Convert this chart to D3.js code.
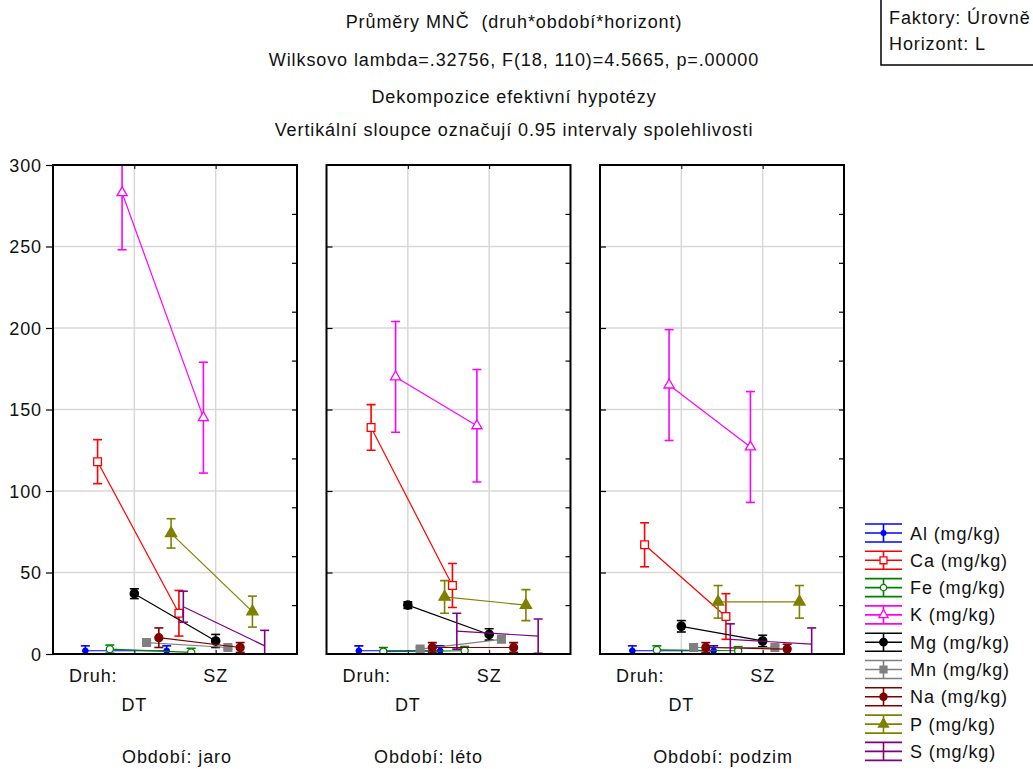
<!DOCTYPE html>
<html><head><meta charset="utf-8">
<script src="https://cdn.jsdelivr.net/npm/d3@7"></script>
<style>
body{margin:0;background:#fff;}
svg text{font-family:"Liberation Sans",Arial,sans-serif;font-size:18px;letter-spacing:0.9px;fill:#111;white-space:pre;}
</style></head><body>
<svg id="chart" width="1033" height="769"></svg>
<script>
// ---- data ----
const titleLines = [
  "Průměry MNČ  (druh*období*horizont)",
  "Wilksovo lambda=.32756, F(18, 110)=4.5665, p=.00000",
  "Dekompozice efektivní hypotézy",
  "Vertikální sloupce označují 0.95 intervaly spolehlivosti"
];
const factorLines = ["Faktory: Úrovně", "Horizont: L"];
const seriesNames = ["Al (mg/kg)", "Ca (mg/kg)", "Fe (mg/kg)", "K (mg/kg)", "Mg (mg/kg)",
                     "Mn (mg/kg)", "Na (mg/kg)", "P (mg/kg)", "S (mg/kg)"];
const seriesColors = ["#0000ff", "#ff0000", "#008000", "#ff00ff", "#000000",
                      "#808080", "#800000", "#808000", "#800080"];
const periods = ["jaro", "léto", "podzim"];
const druhLevels = ["DT", "SZ"];
const yTicks = [0, 50, 100, 150, 200, 250, 300];
const yMinorTicks = [30, 60, 90, 120, 150, 180, 210, 240, 270];

// means [DT, SZ] per series, one array per period
const meanJaro   = [[2, 2], [118, 25], [3, 1], [283, 145], [37, 8], [7, 4], [10, 4], [74, 26], [29, 5]];
const meanLeto   = [[2, 2], [139, 42], [1.5, 2], [170, 140], [30, 12], [3, 9], [4, 4], [35, 30], [14, 11]];
const meanPodzim = [[2, 2], [67, 23], [2.5, 2], [165, 127], [17, 8], [4, 4], [4, 3], [32, 32], [9, 6]];
// 0.95 confidence half-widths [DT, SZ]
const ciJaro   = [[3, 3], [13.5, 14], [2.5, 2.5], [35, 34], [3, 4], [1, 1], [6, 3], [9, 9.5], [9.5, 9.5]];
const ciLeto   = [[3, 3], [14, 13.5], [2.5, 2.5], [34, 34.5], [2, 3.5], [1, 1], [3, 3], [10, 9.5], [11, 10.5]];
const ciPodzim = [[3, 3], [13.5, 14], [2.5, 2.5], [34, 34], [3.5, 3.5], [1, 1], [3, 3], [10, 10], [9.5, 10]];

const meansByPeriod = [meanJaro, meanLeto, meanPodzim];
const ciByPeriod = [ciJaro, ciLeto, ciPodzim];

// ---- layout ----
const svg = d3.select("#chart");
const panelW = 244, panelGap = 29.5, panelLeft0 = 53;
const yTop = 165, yBottom = 654;
const periodLabelX = [124, 102, 123];   // horizontal anchor of each "Období" label inside its panel

const y = d3.scaleLinear().domain([0, 300]).range([yBottom, yTop]);
const xCat = d3.scalePoint().domain(druhLevels).range([0, panelW]).padding(1);
const xOff = d3.scalePoint().domain(seriesNames).range([-49, 49]);
const color = d3.scaleOrdinal().domain(seriesNames).range(seriesColors);

const markerShape = {
  "Al (mg/kg)": {type: d3.symbolCircle, size: 22, fill: true},
  "Ca (mg/kg)": {type: d3.symbolSquare, size: 60, fill: false},
  "Fe (mg/kg)": {type: d3.symbolCircle, size: 40, fill: false},
  "K (mg/kg)":  {type: d3.symbolTriangle, size: 45, fill: false},
  "Mg (mg/kg)": {type: d3.symbolCircle, size: 55, fill: true},
  "Mn (mg/kg)": {type: d3.symbolSquare, size: 60, fill: true},
  "Na (mg/kg)": {type: d3.symbolCircle, size: 50, fill: true},
  "P (mg/kg)":  {type: d3.symbolTriangle, size: 55, fill: true},
  "S (mg/kg)":  null
};

// ---- titles ----
svg.append("g").selectAll("text").data(titleLines).join("text")
  .attr("x", 514).attr("y", (d, i) => [28, 66, 103, 136][i])
  .attr("text-anchor", "middle").text(d => d);

// factor box, top right
svg.append("rect").attr("x", 881).attr("y", -5).attr("width", 170).attr("height", 70)
  .attr("fill", "#fff").attr("stroke", "#000").attr("stroke-width", 1.5);
svg.append("g").selectAll("text").data(factorLines).join("text")
  .attr("x", 889).attr("y", (d, i) => 24 + i * 26).text(d => d);

// ---- panels ----
periods.forEach((period, pi) => {
  const left = panelLeft0 + pi * (panelW + panelGap);
  const g = svg.append("g").attr("transform", `translate(${left},0)`);
  const means = meansByPeriod[pi], cis = ciByPeriod[pi];

  const clipId = "clip" + pi;
  g.append("clipPath").attr("id", clipId).append("rect")
    .attr("x", 0).attr("y", yTop).attr("width", panelW).attr("height", yBottom - yTop);

  // grid
  g.append("g").selectAll("line").data(yTicks.slice(1, -1)).join("line")
    .attr("x1", 0).attr("x2", panelW).attr("y1", d => y(d)).attr("y2", d => y(d))
    .attr("stroke", "#d8d8d8").attr("stroke-width", 1.5);
  g.append("g").selectAll("line").data(druhLevels).join("line")
    .attr("x1", d => xCat(d)).attr("x2", d => xCat(d)).attr("y1", yTop).attr("y2", yBottom)
    .attr("stroke", "#d8d8d8").attr("stroke-width", 1.5);

  // left axis: outward with labels on the first panel, inward ticks otherwise
  if (pi === 0) {
    const ax = g.append("g").call(d3.axisLeft(y).tickValues(yTicks).tickSize(7).tickPadding(4));
    ax.select(".domain").remove();
    ax.selectAll("line").attr("stroke", "#000").attr("stroke-width", 1.2);
    ax.selectAll("text").style("font-size", "18px").attr("fill", "#111")
      .style("font-family", '"Liberation Sans",Arial,sans-serif').attr("dy", "0.35em");
  } else {
    const ax = g.append("g").call(d3.axisRight(y).tickValues(yTicks.slice(1, -1)).tickSize(6).tickFormat(""));
    ax.select(".domain").remove();
    ax.selectAll("line").attr("stroke", "#000").attr("stroke-width", 1.2);
  }
  // right axis inward ticks
  const axR = g.append("g").attr("transform", `translate(${panelW},0)`)
    .call(d3.axisLeft(y).tickValues(yMinorTicks).tickSize(5).tickFormat(""));
  axR.select(".domain").remove();
  axR.selectAll("line").attr("stroke", "#000").attr("stroke-width", 1.2);
  // top & bottom category ticks
  const axT = g.append("g").attr("transform", `translate(0,${yTop})`)
    .call(d3.axisBottom(xCat).tickSize(4).tickFormat(""));
  axT.select(".domain").remove();
  axT.selectAll("line").attr("stroke", "#000");
  const axB = g.append("g").attr("transform", `translate(0,${yBottom})`)
    .call(d3.axisTop(xCat).tickSize(4).tickFormat(""));
  axB.select(".domain").remove();
  axB.selectAll("line").attr("stroke", "#000");

  // series
  const plot = g.append("g").attr("clip-path", `url(#${clipId})`);
  seriesNames.forEach((s, si) => {
    const c = color(s);
    const pts = druhLevels.map((lv, li) => ({
      x: xCat(lv) + xOff(s), m: means[si][li], h: cis[si][li]
    }));
    plot.append("path").datum(pts)
      .attr("d", d3.line().x(d => d.x).y(d => y(d.m)))
      .attr("fill", "none").attr("stroke", c).attr("stroke-width", 1.2);
    const eb = plot.append("g").attr("stroke", c).attr("stroke-width", 1.6);
    eb.selectAll(".v").data(pts).join("line")
      .attr("x1", d => d.x).attr("x2", d => d.x)
      .attr("y1", d => y(d.m + d.h)).attr("y2", d => y(d.m - d.h));
    eb.selectAll(".t").data(pts).join("line")
      .attr("x1", d => d.x - 4.5).attr("x2", d => d.x + 4.5)
      .attr("y1", d => y(d.m + d.h)).attr("y2", d => y(d.m + d.h));
    eb.selectAll(".b").data(pts).join("line")
      .attr("x1", d => d.x - 4.5).attr("x2", d => d.x + 4.5)
      .attr("y1", d => y(d.m - d.h)).attr("y2", d => y(d.m - d.h));
    const mk = markerShape[s];
    if (mk) {
      plot.append("g").selectAll("path").data(pts).join("path")
        .attr("transform", d => `translate(${d.x},${y(d.m)})`)
        .attr("d", d3.symbol().type(mk.type).size(mk.size))
        .attr("fill", mk.fill ? c : "#fff").attr("stroke", c).attr("stroke-width", 1.3);
    }
  });

  // frame
  g.append("rect").attr("x", 0).attr("y", yTop).attr("width", panelW).attr("height", yBottom - yTop)
    .attr("fill", "none").attr("stroke", "#000").attr("stroke-width", 2);

  // category labels
  g.append("text").attr("x", 16).attr("y", 682).text("Druh:");
  g.append("text").attr("x", xCat("SZ")).attr("y", 682).attr("text-anchor", "middle").text("SZ");
  g.append("text").attr("x", xCat("DT")).attr("y", 711).attr("text-anchor", "middle").text("DT");
  g.append("text").attr("x", periodLabelX[pi]).attr("y", 763).attr("text-anchor", "middle")
    .text("Období: " + period);
});

// ---- legend ----
const legend = svg.append("g").attr("transform", "translate(865,533)");
const lg = legend.selectAll("g").data(seriesNames).join("g")
  .attr("transform", (d, i) => `translate(0,${i * 27.3})`);
lg.each(function (s) {
  const g = d3.select(this), c = color(s);
  [-9, 0, 9].forEach(dy => g.append("line").attr("x1", 0).attr("x2", 37).attr("y1", dy).attr("y2", dy)
    .attr("stroke", c).attr("stroke-width", 1.6));
  g.append("line").attr("x1", 18.5).attr("x2", 18.5).attr("y1", -9).attr("y2", 9)
    .attr("stroke", c).attr("stroke-width", 1.6);
  const mk = markerShape[s];
  if (mk) {
    g.append("path").attr("transform", "translate(18.5,0)")
      .attr("d", d3.symbol().type(mk.type).size(mk.size * 0.8))
      .attr("fill", mk.fill ? c : "#fff").attr("stroke", c).attr("stroke-width", 1.3);
  }
  g.append("text").attr("x", 45).attr("y", 6.5).text(s);
});
</script>
</body></html>
